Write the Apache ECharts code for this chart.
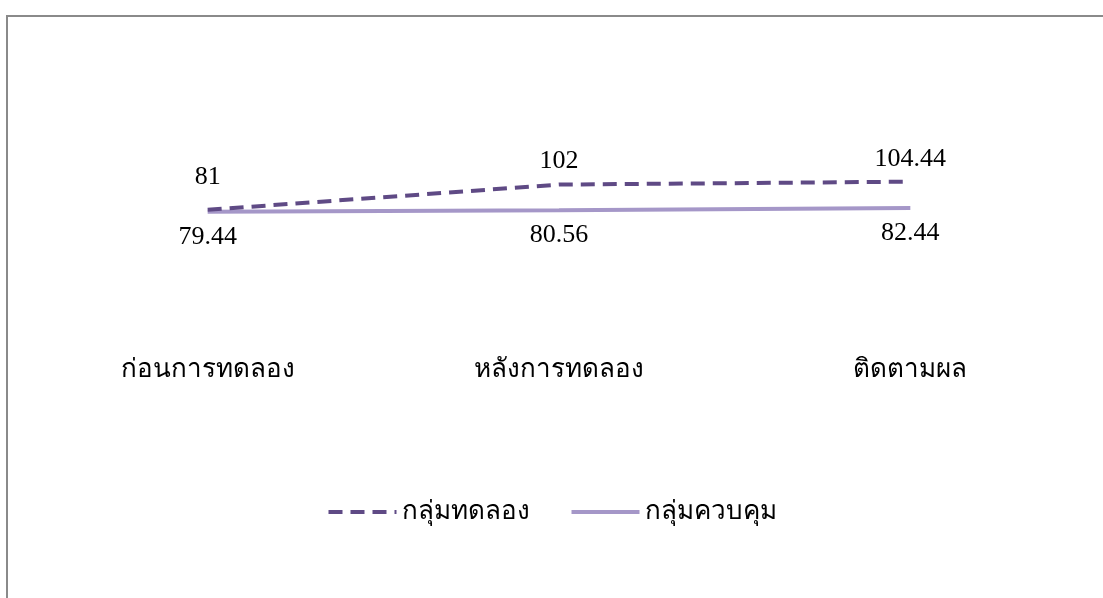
<!DOCTYPE html>
<html>
<head>
<meta charset="utf-8">
<script src="https://cdn.jsdelivr.net/npm/echarts@6/dist/echarts.min.js"></script>
<style>
  html, body { margin: 0; padding: 0; background: #fff; }
  #frame { position: absolute; left: 6px; top: 15px; right: -10px; bottom: -10px;
           border-top: 2px solid #8a8a8a; border-left: 2px solid #8a8a8a; }
  #chart { position: absolute; left: 0; top: 0; width: 1103px; height: 598px; }
</style>
</head>
<body>
<div id="frame"></div>
<div id="chart"></div>
<script>
var categories = ['ก่อนการทดลอง', 'หลังการทดลอง', 'ติดตามผล'];
var seriesNames = ['กลุ่มทดลอง', 'กลุ่มควบคุม'];
var experimental = [81, 102, 104.44];
var control = [79.44, 80.56, 82.44];

var serif = '"Liberation Serif", "Times New Roman", serif';
var chart = echarts.init(document.getElementById('chart'));

// first label of the dashed line sits a bit higher in the original
var expData = experimental.map(function (v, i) {
  return i === 0 ? { value: v, label: { distance: 20 } } : v;
});

chart.setOption({
  animation: false,
  grid: { left: 32, right: 17, top: 163, bottom: 291 },
  legend: {
    bottom: 68,
    left: 'center',
    itemWidth: 68,
    itemHeight: 4,
    itemGap: 40,
    lineStyle: { width: 4 },
    itemStyle: { opacity: 0 },
    textStyle: { fontSize: 26, color: '#000', fontFamily: serif },
    data: seriesNames
  },
  xAxis: {
    type: 'category',
    data: categories,
    axisLine: { show: false },
    axisTick: { show: false },
    axisLabel: { margin: 50, fontSize: 26, color: '#000', fontFamily: serif }
  },
  yAxis: {
    type: 'value',
    min: 0,
    max: 120,
    show: false,
    splitLine: { show: false }
  },
  series: [
    {
      name: seriesNames[0],
      type: 'line',
      data: expData,
      symbol: 'circle',
      symbolSize: 0,
      showSymbol: true,
      lineStyle: { color: '#5f4a85', width: 4, type: [14, 8] },
      itemStyle: { color: '#5f4a85' },
      label: { show: true, position: 'top', distance: 10, fontSize: 26, color: '#000', fontFamily: serif },
      z: 3
    },
    {
      name: seriesNames[1],
      type: 'line',
      data: control,
      symbol: 'circle',
      symbolSize: 0,
      showSymbol: true,
      lineStyle: { color: '#a597c8', width: 4 },
      itemStyle: { color: '#a597c8' },
      label: { show: true, position: 'bottom', distance: 12, fontSize: 26, color: '#000', fontFamily: serif },
      z: 2
    }
  ]
});
</script>
</body>
</html>
